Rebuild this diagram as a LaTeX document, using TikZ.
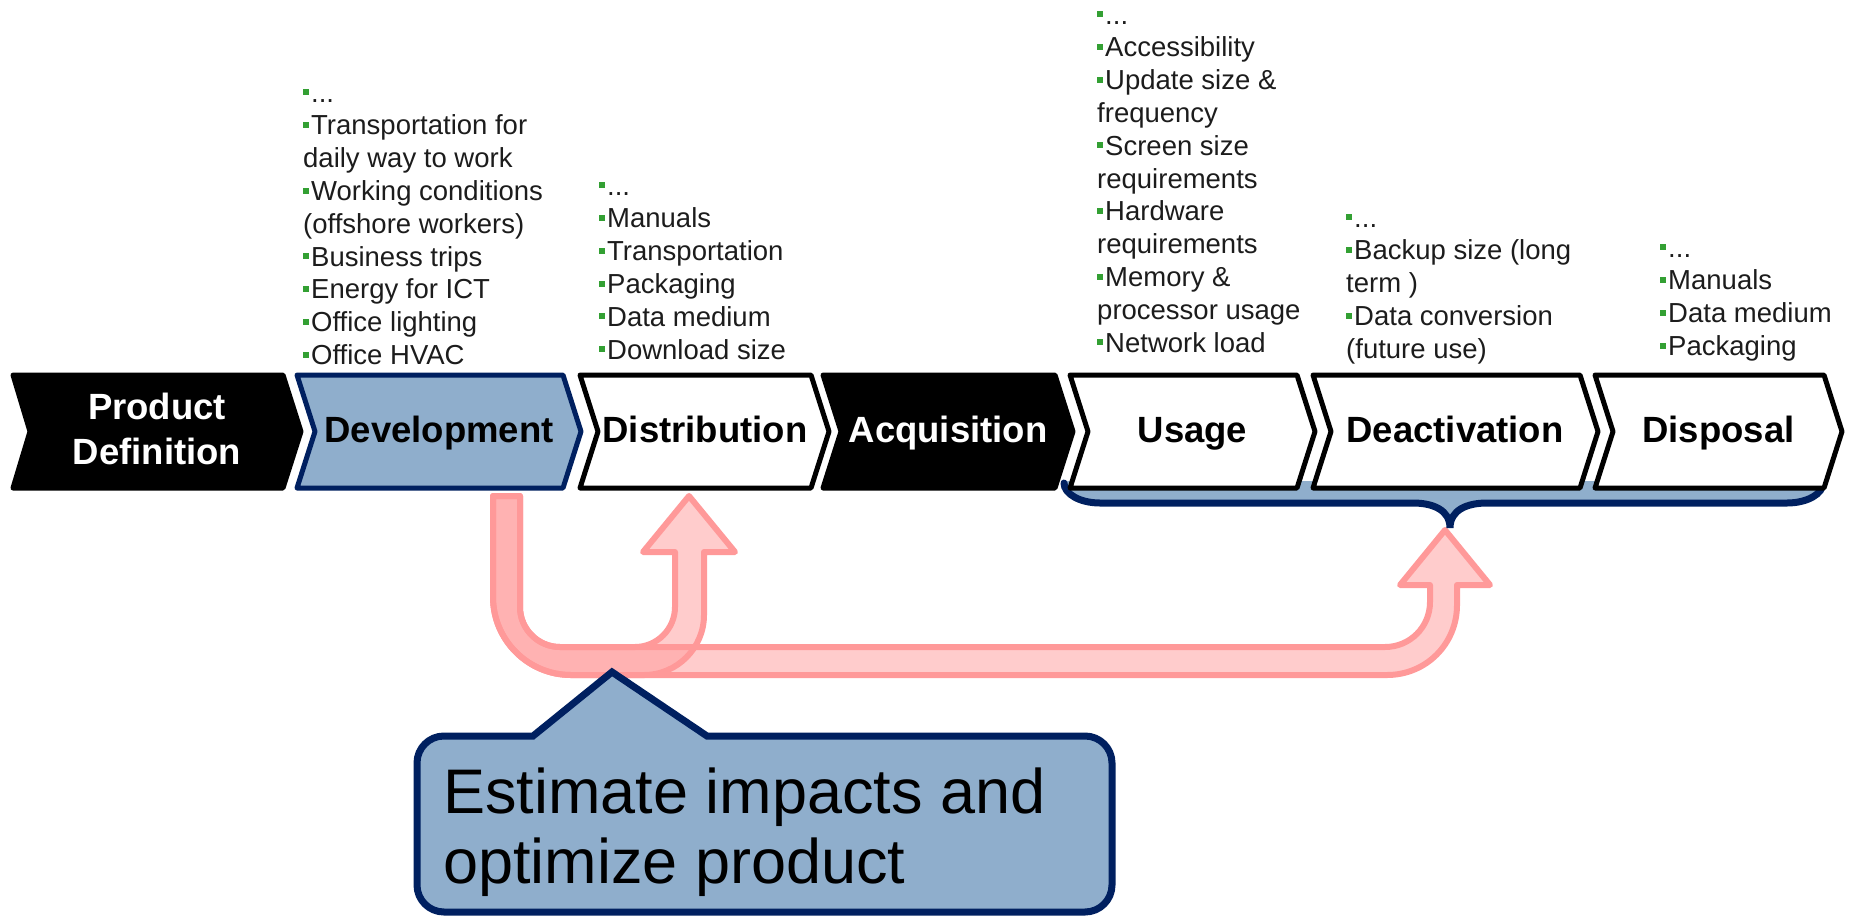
\documentclass[tikz,border=0pt]{standalone}
\usepackage{fontspec}
\setmainfont{Liberation Sans}
\definecolor{navy}{HTML}{002060}
\definecolor{steel}{HTML}{8FAECC}
\definecolor{salmon}{HTML}{FF9999}
\definecolor{bgreen}{HTML}{33A033}
\definecolor{ink}{HTML}{1C1C1C}
% small green square bullet
\newcommand\bul{{\color{bgreen}\rule[7pt]{6pt}{6pt}}\hspace{2pt}}
\newcommand\Ls{\strut}

\begin{document}
\begin{tikzpicture}[x=1pt,y=-1pt,
  chev/.style={line width=5pt, line join=round},
  stage/.style={font=\bfseries\fontsize{36.5}{45}\selectfont, align=center, inner sep=0pt},
  notes/.style={font=\fontsize{27.5}{32.8}\selectfont, text=ink, align=left, inner sep=0pt, anchor=north west},
  uturn/.style={draw=salmon, fill=salmon, fill opacity=0.5, draw opacity=1, line width=6pt, line join=round},
]
\useasboundingbox (0,0) rectangle (1849,919);

% U-turn arrows leaving the development stage
\draw[uturn] (493,496) -- (520,496) -- (520,607) .. controls (520,629) and (538,647) .. (560,647)
  -- (1385,647) .. controls (1410,647) and (1430,627) .. (1430,602) -- (1430,585) -- (1400,585)
  -- (1445,530) -- (1490,585) -- (1457,585) -- (1457,605) .. controls (1457,644) and (1426,675) .. (1387,675)
  -- (571,675) .. controls (528,675) and (493,640) .. (493,597) -- cycle;
\draw[uturn] (493,496) -- (520,496) -- (520,607) .. controls (520,629) and (538,647) .. (560,647)
  -- (635,647) .. controls (657,647) and (675,629) .. (675,607) -- (675,552) -- (643,552)
  -- (689,496) -- (735,552) -- (704,552) -- (704,615) .. controls (704,648) and (677,675) .. (644,675)
  -- (571,675) .. controls (528,675) and (493,640) .. (493,597) -- cycle;

% brace under the last three stages
\fill[steel] (1064,481) -- (1823,481) -- (1823,483) .. controls (1823,494) and (1807,503) .. (1787,503)
  -- (1487,503) .. controls (1467,503) and (1450,510) .. (1450,528) .. controls (1450,510) and (1433,503) .. (1413,503)
  -- (1100,503) .. controls (1080,503) and (1064,494) .. (1064,483) -- cycle;
\draw[navy, line width=7pt, line cap=round] (1064,483) .. controls (1064,494) and (1080,503) .. (1100,503)
  -- (1413,503) .. controls (1433,503) and (1450,510) .. (1450,528) .. controls (1450,510) and (1467,503) .. (1487,503)
  -- (1787,503) .. controls (1807,503) and (1823,494) .. (1823,483);

% callout
\draw[navy, line width=7pt, fill=steel, line join=miter]
  (533,736) -- (444,736) .. controls (429.1,736) and (417,748.1) .. (417,763) -- (417,885)
  .. controls (417,899.9) and (429.1,912) .. (444,912) -- (1085,912) .. controls (1099.9,912) and (1112,899.9) .. (1112,885)
  -- (1112,763) .. controls (1112,748.1) and (1099.9,736) .. (1085,736) -- (707,736) -- (612,672) -- cycle;
\node[inner sep=0pt, anchor=north west, align=left, font=\fontsize{63}{70}\selectfont] (note) at (443,764)
  {\Ls Estimate impacts and\\\Ls optimize product};

% process chevrons
\draw[chev, fill=black] (13,375) -- (283,375) -- (301,431.5) -- (283,488) -- (13,488) -- (30,431.5) -- cycle;
\draw[chev, draw=navy, fill=steel] (297,375) -- (563,375) -- (581,431.5) -- (563,488) -- (297,488) -- (315,431.5) -- cycle;
\draw[chev, fill=white] (580,375) -- (811,375) -- (829,431.5) -- (811,488) -- (580,488) -- (598,431.5) -- cycle;
\draw[chev, fill=black] (823,375) -- (1055,375) -- (1073,431.5) -- (1055,488) -- (823,488) -- (841,431.5) -- cycle;
\draw[chev, fill=white] (1070,375) -- (1297,375) -- (1315,431.5) -- (1297,488) -- (1070,488) -- (1088,431.5) -- cycle;
\draw[chev, fill=white] (1313,375) -- (1580,375) -- (1598,431.5) -- (1580,488) -- (1313,488) -- (1331,431.5) -- cycle;
\draw[chev, fill=white] (1595,375) -- (1824,375) -- (1842,431.5) -- (1824,488) -- (1595,488) -- (1613,431.5) -- cycle;

\node[stage, text=white] (pd) at (157,433) {\Ls Product\\\Ls Definition};
\node[stage] (dev) at (439,433) {\Ls Development};
\node[stage] (dist) at (705,433) {\Ls Distribution};
\node[stage, text=white] (acq) at (948,433) {\Ls Acquisition};
\node[stage] (use) at (1192.5,433) {\Ls Usage};
\node[stage] (deact) at (1455,433) {\Ls Deactivation};
\node[stage] (disp) at (1718.5,433) {\Ls Disposal};

% impact notes per stage
\node[notes] (ldev) at (303,79) {\Ls\bul...\\\Ls\bul Transportation for\\\Ls daily way to work\\
  \Ls\bul Working conditions\\\Ls (offshore workers)\\\Ls\bul Business trips\\\Ls\bul Energy for ICT\\
  \Ls\bul Office lighting\\\Ls\bul Office HVAC};
\node[notes] (ldist) at (599,172) {\Ls\bul...\\\Ls\bul Manuals\\\Ls\bul Transportation\\\Ls\bul Packaging\\
  \Ls\bul Data medium\\\Ls\bul Download size};
\node[notes] (luse) at (1097,1) {\Ls\bul...\\\Ls\bul Accessibility\\\Ls\bul Update size \&\\\Ls frequency\\
  \Ls\bul Screen size\\\Ls requirements\\\Ls\bul Hardware\\\Ls requirements\\\Ls\bul Memory \&\\
  \Ls processor usage\\\Ls\bul Network load};
\node[notes] (ldeact) at (1346,204) {\Ls\bul...\\\Ls\bul Backup size (long\\\Ls term )\\
  \Ls\bul Data conversion\\\Ls (future use)};
\node[notes] (ldisp) at (1660,234) {\Ls\bul...\\\Ls\bul Manuals\\\Ls\bul Data medium\\\Ls\bul Packaging};
\end{tikzpicture}
\end{document}
